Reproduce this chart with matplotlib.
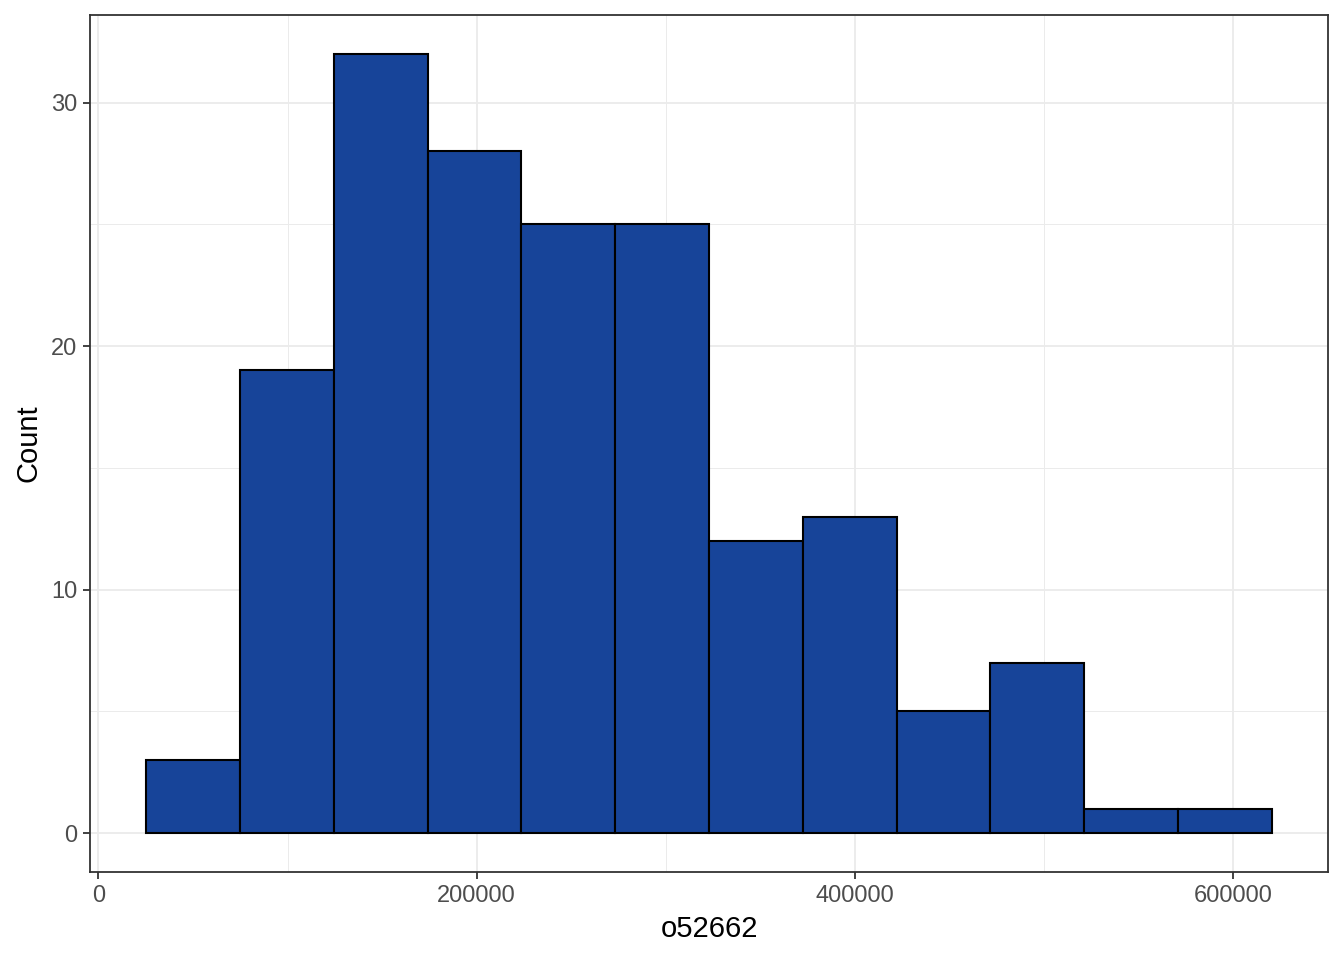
import matplotlib
matplotlib.use("Agg")
import matplotlib.pyplot as plt
import numpy as np

plt.rcParams['font.family'] = ['Liberation Sans', 'DejaVu Sans']

# histogram bins
edges = [25300, 74900, 124500, 174100, 223700, 273300, 322900,
         372500, 422100, 471700, 521300, 570900, 620500]
counts = [3, 19, 32, 28, 25, 25, 12, 13, 5, 7, 1, 1]
xticks = [0, 200000, 400000, 600000]
yticks = [0, 10, 20, 30]

fig = plt.figure(figsize=(13.44, 9.6), dpi=100)
ax = fig.add_axes([90/1344, 88/960, 1238/1344, 857/960])

edges = np.array(edges)
widths = np.diff(edges)
ax.bar(edges[:-1], counts, width=widths, align='edge',
       color='#174499', edgecolor='black', linewidth=1.5, zorder=3)

span = edges[-1] - edges[0]
ax.set_xlim(edges[0] - 0.05*span, edges[-1] + 0.05*span)
ax.set_ylim(-0.05*max(counts), 1.05*max(counts))

ax.set_xticks(xticks)
ax.set_xticklabels([str(v) for v in xticks])
ax.set_yticks(yticks)
ax.set_xticks([100000, 300000, 500000], minor=True)
ax.set_yticks([5, 15, 25], minor=True)

ax.grid(True, which='major', color='#EBEBEB', linewidth=1.3, zorder=0)
ax.grid(True, which='minor', color='#EBEBEB', linewidth=0.7, zorder=0)
ax.set_axisbelow(True)

for s in ax.spines.values():
    s.set_color('#333333')
    s.set_linewidth(1.3)

ax.tick_params(which='major', length=5, width=1.3, color='#333333',
               labelsize=17, labelcolor='#4D4D4D', pad=4)
ax.tick_params(which='minor', length=0)

ax.set_xlabel('o52662', fontsize=21, color='black', labelpad=6)
ax.set_ylabel('Count', fontsize=21, color='black', labelpad=6)

fig.savefig('out.png', dpi=100)
